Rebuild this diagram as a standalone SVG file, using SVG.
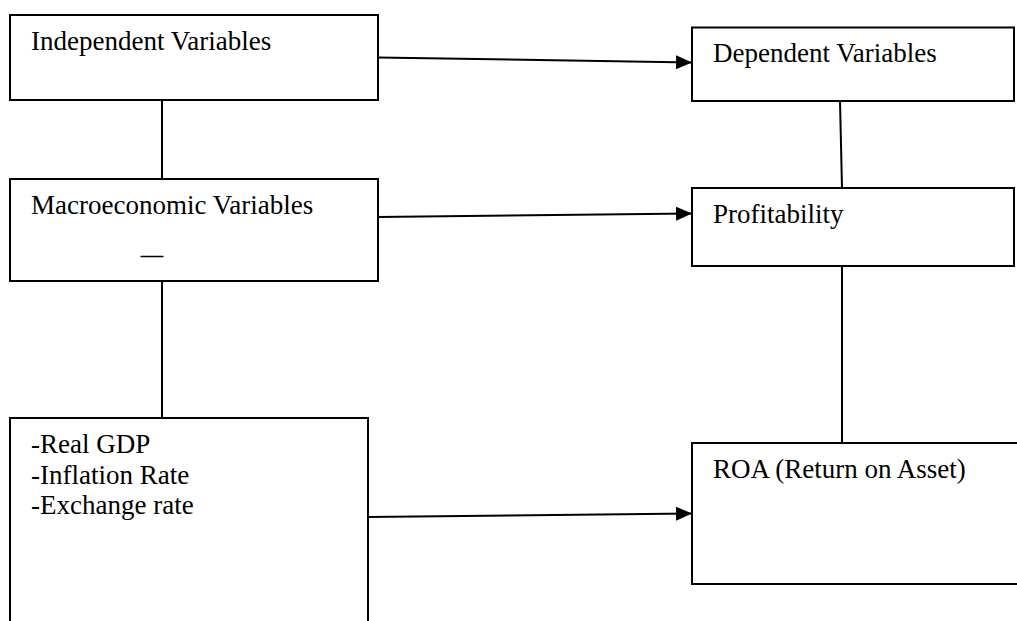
<svg xmlns="http://www.w3.org/2000/svg" width="1017" height="621" viewBox="0 0 1017 621">
<style>
.box{fill:#fff;stroke:#000;stroke-width:2}
.t{font-family:"Liberation Serif","Times New Roman",serif;font-size:27px;fill:#000}
.c{stroke:#000;stroke-width:2;fill:none}
</style>
<defs>
<marker id="arr" viewBox="0 0 16 14" refX="16" refY="7" markerWidth="16" markerHeight="14" markerUnits="userSpaceOnUse" orient="auto">
<path d="M0,0 L16,7 L0,14 Z" fill="#000"/>
</marker>
</defs>
<rect width="1017" height="621" fill="#fff"/>
<g id="connectors">
<line class="c" x1="162" y1="100" x2="162" y2="179"/>
<line class="c" x1="162" y1="281" x2="162" y2="418"/>
<line class="c" x1="840" y1="101" x2="842" y2="188"/>
<line class="c" x1="842" y1="266" x2="842" y2="443"/>
<line class="c" x1="378" y1="57.5" x2="692" y2="62.5" marker-end="url(#arr)"/>
<line class="c" x1="378" y1="217" x2="692" y2="213.5" marker-end="url(#arr)"/>
<line class="c" x1="368" y1="517" x2="692" y2="513.5" marker-end="url(#arr)"/>
</g>
<g id="independent">
<rect class="box" x="10" y="15" width="368" height="85"/>
<text class="t" x="31" y="50">Independent Variables</text>
</g>
<g id="dependent">
<rect class="box" x="692" y="27.5" width="322" height="73.5"/>
<text class="t" x="713" y="62">Dependent Variables</text>
</g>
<g id="macro">
<rect class="box" x="10" y="179" width="368" height="102"/>
<text class="t" x="31" y="214">Macroeconomic Variables</text>
<text class="t" x="141" y="262" style="font-size:22px;stroke:#000;stroke-width:0.5">—</text>
</g>
<g id="profitability">
<rect class="box" x="692" y="188" width="322" height="78"/>
<text class="t" x="713" y="223">Profitability</text>
</g>
<g id="factors">
<rect class="box" x="10" y="418" width="358" height="220"/>
<text class="t" x="31" y="453">-Real GDP</text>
<text class="t" x="31" y="483.5">-Inflation Rate</text>
<text class="t" x="31" y="514">-Exchange rate</text>
</g>
<g id="roa">
<rect class="box" x="692" y="443" width="340" height="141"/>
<text class="t" x="713" y="478">ROA (Return on Asset)</text>
</g>
</svg>
